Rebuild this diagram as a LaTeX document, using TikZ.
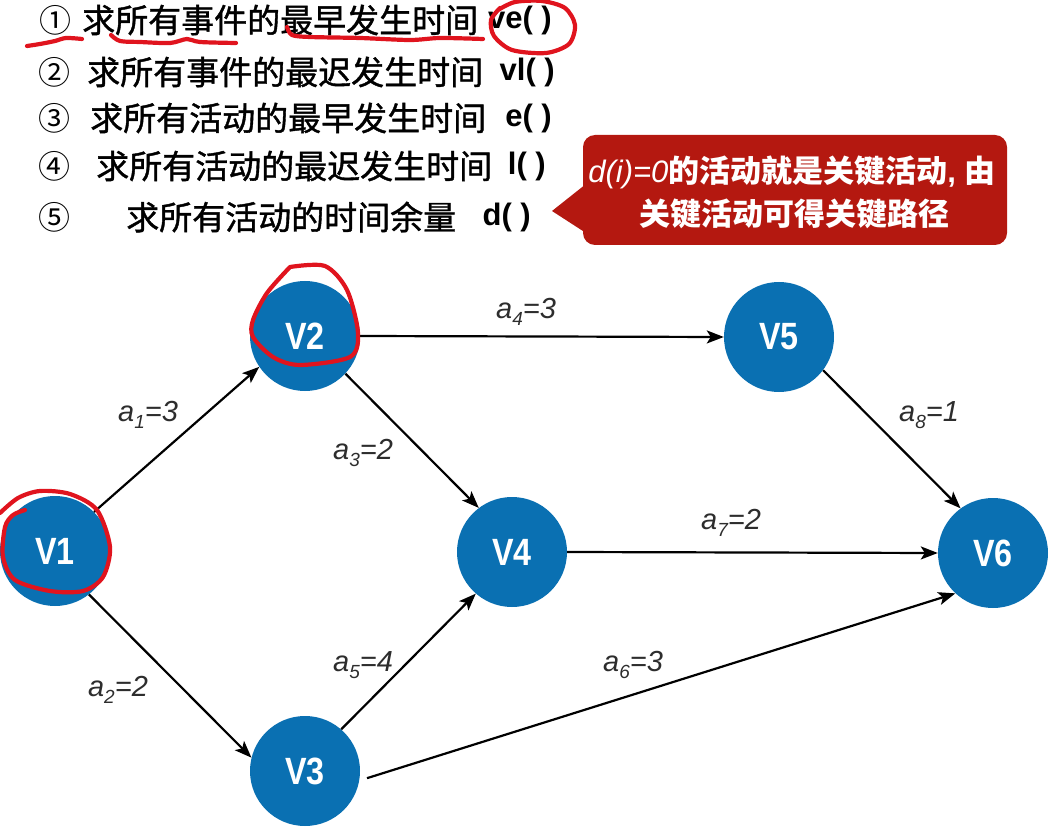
\documentclass[tikz,border=0pt]{standalone}
\usepackage{fontspec}
\setmainfont{Liberation Sans}
\newfontfamily\cjk{Noto Sans CJK SC}
\newfontfamily\cjkm{Noto Sans CJK SC}[FakeBold=1.2]
\newfontfamily\lab{Liberation Sans}[FakeStretch=0.85]
\usetikzlibrary{arrows.meta}
\definecolor{nodeblue}{RGB}{10,112,178}
\definecolor{callred}{RGB}{180,24,16}
\definecolor{pen}{RGB}{224,20,30}
\definecolor{labgray}{RGB}{45,45,45}
\newcommand{\elabtext}[2]{a\raisebox{-0.22em}{\fontsize{19}{19}\selectfont #1}=#2}
\begin{document}
\begin{tikzpicture}[x=1pt,y=-1pt,
  vtx/.style={circle,fill=nodeblue,minimum size=110pt,inner sep=0pt,text=white,font=\lab\bfseries\fontsize{38}{40}\selectfont},
  edge/.style={line width=2.2pt,-{Stealth[length=17pt,width=13pt,inset=4pt]}},
  elab/.style={font=\itshape\fontsize{29}{31}\selectfont,text=labgray,inner sep=0pt},
  numtxt/.style={font=\cjk\fontsize{32}{36}\selectfont,inner sep=0pt},
  cjktxt/.style={font=\cjkm\fontsize{33}{36}\selectfont,anchor=west,inner sep=0pt},
  lattxt/.style={font=\bfseries\fontsize{31}{34}\selectfont,anchor=east,inner sep=0pt},
  calltxt/.style={font=\cjk\bfseries\fontsize{31}{34}\selectfont,text=white,inner sep=0pt},
  penline/.style={draw=pen,line width=4.2pt,line cap=round,line join=round}
]
\useasboundingbox (0,0) rectangle (1053,829);

% --- list of steps ---
\node[numtxt] (n1) at (55,20) {①};
\node[numtxt] (n2) at (54,72) {②};
\node[numtxt] (n3) at (54,118) {③};
\node[numtxt] (n4) at (54,166) {④};
\node[numtxt] (n5) at (54,217) {⑤};
\node[cjktxt] (t1) at (82,20) {求所有事件的最早发生时间};
\node[cjktxt] (t2) at (87,72) {求所有事件的最迟发生时间};
\node[cjktxt] (t3) at (90,118) {求所有活动的最早发生时间};
\node[cjktxt] (t4) at (96,166) {求所有活动的最迟发生时间};
\node[cjktxt] (t5) at (126,217) {求所有活动的时间余量};
\node[lattxt] (l1) at (552,20) {ve( )};
\node[lattxt] (l2) at (555,72) {vl( )};
\node[lattxt] (l3) at (552,118) {e( )};
\node[lattxt] (l4) at (546,166) {l( )};
\node[lattxt] (l5) at (531,217) {d( )};

% --- callout ---
\fill[callred,rounded corners=12pt] (583,135) -- (1007,135) -- (1007,245) -- (583,245) -- cycle;
\fill[callred] (586,184) -- (552,211) -- (586,233) -- cycle;
\node[calltxt] (c1) at (792,172) {{\itshape\mdseries\fontspec{Liberation Sans} d(i)=0}的活动就是关键活动{\fontspec{Liberation Sans}, }由};
\node[calltxt] (c2) at (794,214) {关键活动可得关键路径};

% --- graph ---
\node[vtx] (V1) at (55,551) {V1};
\node[vtx] (V2) at (305,336) {V2};
\node[vtx] (V3) at (305,771) {V3};
\node[vtx] (V4) at (512,552) {V4};
\node[vtx] (V5) at (779,337) {V5};
\node[vtx] (V6) at (993,553) {V6};

\draw[edge] (V1.45) -- (V2.214);
\draw[edge] (V1.-52) -- (V3.166);
\draw[edge] (V2.-43) -- (V4.127);
\draw[edge] (V2.east) -- (V5.west);
\draw[edge] (V3.49) -- (V4.229);
\draw[edge,shorten <=8pt] (V3.-10) -- (V6.227);
\draw[edge] (V4.east) -- (V6.west);
\draw[edge] (V5.-37) -- (V6.126);

\node[elab] (e1) at (148,415) {\elabtext{1}{3}};
\node[elab] (e2) at (118,690) {\elabtext{2}{2}};
\node[elab] (e3) at (363,453) {\elabtext{3}{2}};
\node[elab] (e4) at (526,312) {\elabtext{4}{3}};
\node[elab] (e5) at (363,665) {\elabtext{5}{4}};
\node[elab] (e6) at (633,665) {\elabtext{6}{3}};
\node[elab] (e7) at (731,523) {\elabtext{7}{2}};
\node[elab] (e8) at (929,415) {\elabtext{8}{1}};

% --- red pen annotations ---
\draw[penline] plot[smooth] coordinates {(27,46) (40,44) (55,41) (66,38) (82,39)};
\draw[penline] plot[smooth] coordinates {(111,35) (120,41) (140,42) (170,43) (187,39) (200,42) (236,43)};
\draw[penline] plot[smooth] coordinates {(287,27) (292,35) (310,37) (360,38) (410,40) (440,38) (483,39)};
\draw[penline] plot[smooth] coordinates {(498,10) (515,2) (542,1) (565,8) (575,25) (569,44) (546,53) (512,50) (494,36) (491,20) (500,8)};
\draw[penline] plot[smooth] coordinates {(290,267) (325,266) (347,290) (358,333) (350,357) (300,365) (273,357) (253,337) (253,320) (267,293) (290,267)};
\draw[penline] plot[smooth] coordinates {(0,513) (18,498) (40,491) (70,494) (97,510) (110,547) (103,577) (83,591) (50,591) (15,580) (3,557) (5,527) (13,515) (25,510)};
\end{tikzpicture}
\end{document}
